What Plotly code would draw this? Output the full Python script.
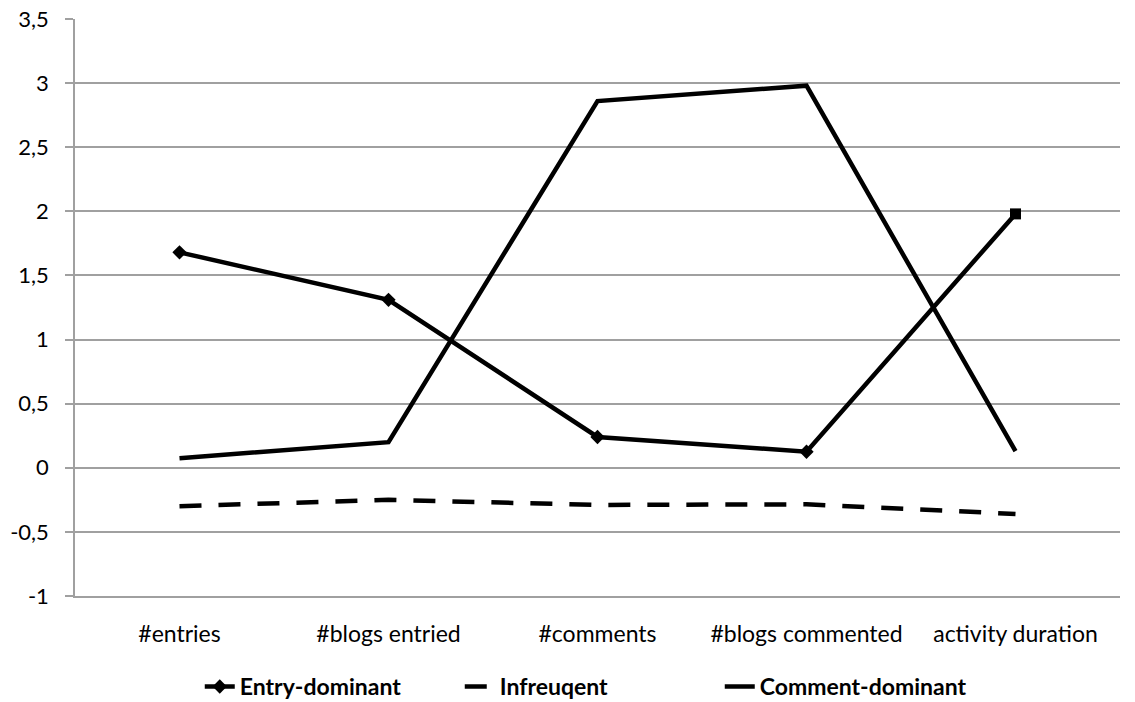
import plotly.graph_objects as go

categories = ["#entries", "#blogs entried", "#comments", "#blogs commented", "activity duration"]
entry_dominant = [1.68, 1.31, 0.24, 0.125, 1.98]
infrequent = [-0.30, -0.25, -0.29, -0.285, -0.36]
comment_dominant = [0.075, 0.20, 2.86, 2.98, 0.13]
y_ticks = [-1, -0.5, 0, 0.5, 1, 1.5, 2, 2.5, 3, 3.5]
y_tick_text = ["-1", "-0,5", "0", "0,5", "1", "1,5", "2", "2,5", "3", "3,5"]

font_family = "Lato, 'Open Sans', sans-serif"

fig = go.Figure()
fig.add_trace(go.Scatter(
    x=categories, y=entry_dominant, name="<b>Entry-dominant</b>",
    mode="lines+markers",
    line=dict(color="black", width=4.5),
    marker=dict(symbol=["diamond"] * 4 + ["square"], size=11, color="black"),
))
fig.add_trace(go.Scatter(
    x=categories, y=infrequent, name="<b>Infreuqent</b>",
    mode="lines",
    line=dict(color="black", width=4.5, dash="22px,17px"),
))
fig.add_trace(go.Scatter(
    x=categories, y=comment_dominant, name="<b>Comment-dominant</b>",
    mode="lines",
    line=dict(color="black", width=4.5),
))

fig.update_layout(
    width=1135, height=702,
    margin=dict(l=75, r=15, t=19, b=106, autoexpand=False),
    paper_bgcolor="white", plot_bgcolor="white",
    font=dict(family=font_family, size=22, color="black"),
    showlegend=True,
    legend=dict(orientation="h", xref="container", yref="container",
                x=0.176, xanchor="left", y=0.022, yanchor="middle",
                font=dict(size=23), entrywidth=215, entrywidthmode="pixels",
                traceorder="normal"),
    xaxis=dict(
        type="category", range=[-0.5, 4.5], automargin=False,
        showgrid=False, showline=True, linecolor="#a0a0a0", linewidth=1.5,
        ticks="", ticklabelstandoff=17, tickfont=dict(size=23),
        zeroline=False,
    ),
    yaxis=dict(
        range=[-1, 3.5], tickvals=y_ticks, ticktext=y_tick_text, automargin=False,
        showgrid=True, gridcolor="#a0a0a0", gridwidth=1.5,
        showline=True, linecolor="#a0a0a0", linewidth=1.5,
        ticks="outside", ticklen=8, tickcolor="#a0a0a0", tickwidth=1.5,
        ticklabelstandoff=12, tickfont=dict(size=22),
        zeroline=False,
    ),
)

fig.write_html("out.html")
